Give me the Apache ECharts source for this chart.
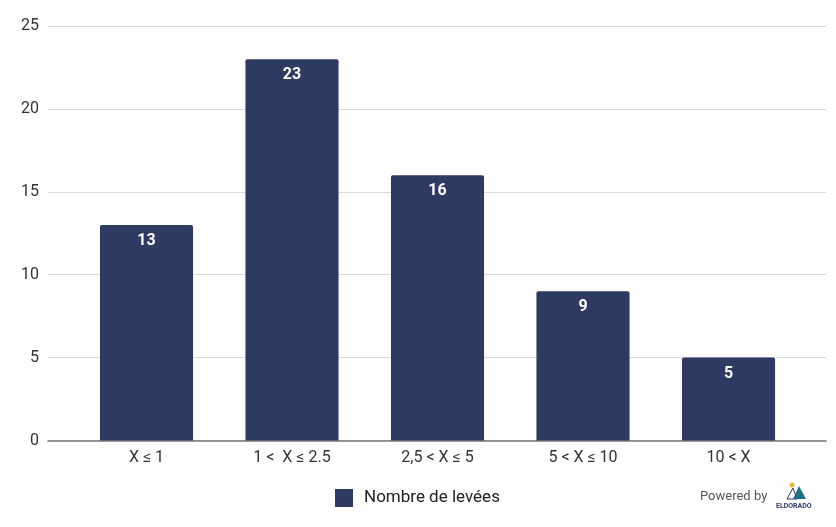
<!DOCTYPE html>
<html>
<head>
<meta charset="utf-8">
<script src="https://cdn.jsdelivr.net/npm/echarts@6/dist/echarts.min.js"></script>
<style>
  html, body { margin: 0; padding: 0; background: #fff; }
  #chart { width: 836px; height: 527px; }
</style>
</head>
<body>
<div id="chart"></div>
<script>
// data
var categories = ['X \u2264 1', '1 <  X \u2264 2.5', '2,5 < X \u2264 5', '5 < X \u2264 10', '10 < X'];
var levees = [13, 23, 16, 9, 5];
var seriesName = 'Nombre de levées';

var myChart = echarts.init(document.getElementById('chart'));

var option = {
    backgroundColor: '#fff',
    textStyle: { fontFamily: 'Roboto' },
    legend: {
        data: [{ name: seriesName, icon: 'rect' }],
        left: 330,
        top: 484,
        itemWidth: 18,
        itemHeight: 18,
        itemGap: 10,
        textStyle: { fontSize: 17, color: '#222', fontFamily: 'Roboto', padding: [0, 0, 0, 6] }
    },
    grid: [
        // background grid: gridlines + y labels across full width
        { left: 48, right: 10, top: 26, bottom: 86.5 },
        // bars grid
        { left: 73.75, right: 34.75, top: 26, bottom: 86.5 }
    ],
    xAxis: [
        {
            gridIndex: 0, type: 'value', min: 0, max: 1,
            axisLine: { show: true, lineStyle: { color: '#777', width: 1.5 } },
            axisTick: { show: false }, axisLabel: { show: false }, splitLine: { show: false }
        },
        {
            gridIndex: 1, type: 'category', data: categories,
            axisLine: { show: false }, axisTick: { show: false },
            axisLabel: { fontSize: 16, color: '#333', margin: 9, fontFamily: 'Roboto' }
        }
    ],
    yAxis: [
        {
            gridIndex: 0, type: 'value', min: 0, max: 25, interval: 5,
            axisLine: { show: false }, axisTick: { show: false },
            axisLabel: { fontSize: 16, color: '#333', margin: 9, fontFamily: 'Roboto' },
            splitLine: { lineStyle: { color: '#d9d9d9', width: 1 } }
        },
        {
            gridIndex: 1, type: 'value', min: 0, max: 25, interval: 5,
            axisLine: { show: false }, axisTick: { show: false },
            axisLabel: { show: false }, splitLine: { show: false }
        }
    ],
    series: [
        {
            name: seriesName,
            type: 'bar',
            xAxisIndex: 1,
            yAxisIndex: 1,
            data: levees,
            barCategoryGap: '36%',
            itemStyle: { color: '#2e3a62', borderRadius: [2, 2, 0, 0] },
            label: {
                show: true,
                position: 'insideTop',
                distance: 8,
                color: '#fff',
                fontWeight: 'bold',
                fontSize: 16,
                fontFamily: 'Roboto'
            }
        }
    ],
    graphic: [
        { type: 'text', left: 700, top: 490, style: { text: 'Powered by', fontSize: 13, fill: '#555', fontFamily: 'Roboto' } },
        { type: 'circle', shape: { cx: 792, cy: 485, r: 2.5 }, style: { fill: '#e8b83a' } },
        { type: 'polygon', shape: { points: [[787, 499], [793, 488], [797, 499]] }, style: { fill: '#fff', stroke: '#2e3a62', lineWidth: 1 } },
        { type: 'polygon', shape: { points: [[793, 499], [799, 486], [806, 499]] }, style: { fill: '#1f6f86' } },
        { type: 'text', left: 776, top: 503, style: { text: 'ELDORADO', fontSize: 7, fontWeight: 'bold', fill: '#2e3a62', fontFamily: 'Roboto' } }
    ]
};

myChart.setOption(option);
</script>
</body>
</html>
